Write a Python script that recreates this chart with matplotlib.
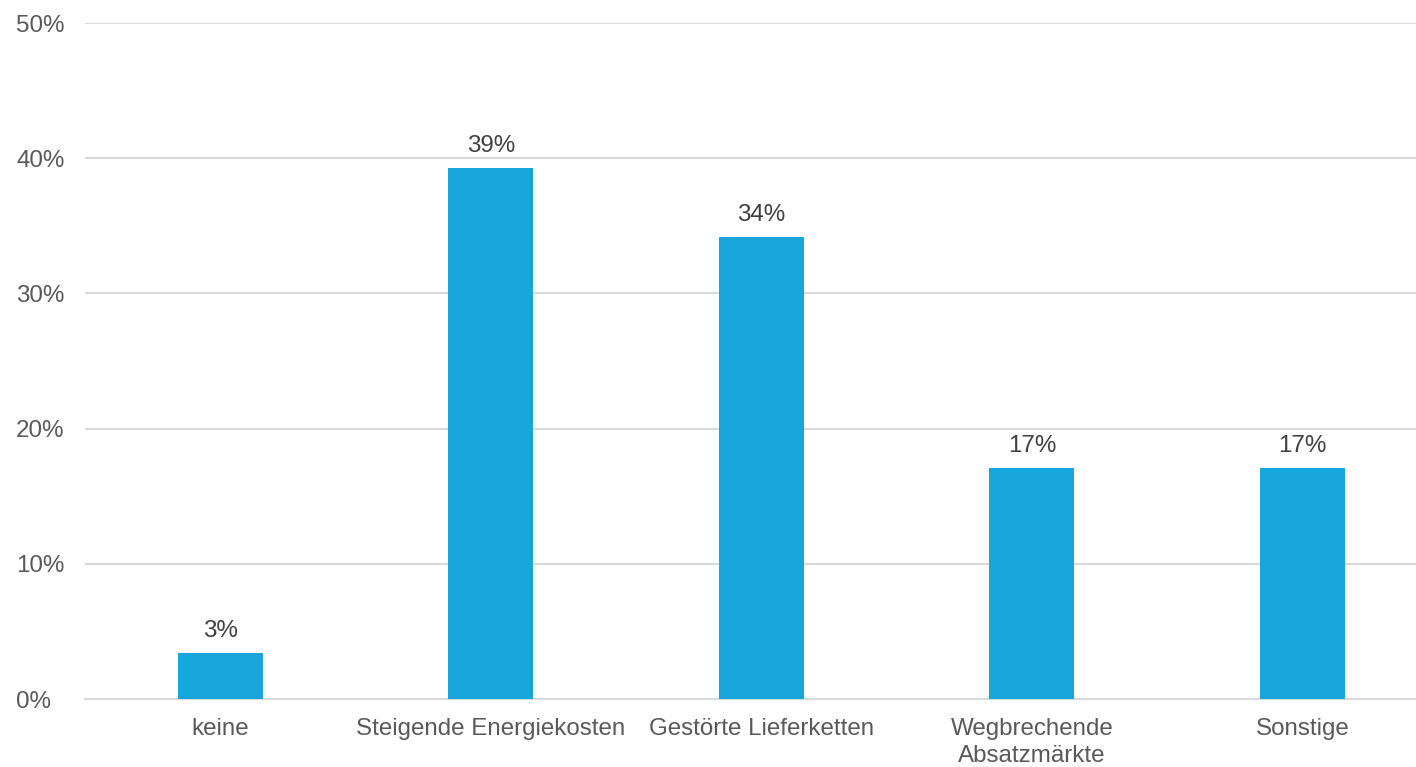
import matplotlib
matplotlib.use("Agg")
import matplotlib.pyplot as plt
from matplotlib.ticker import FuncFormatter

categories = ["keine", "Steigende Energiekosten", "Gestörte Lieferketten",
              "Wegbrechende\nAbsatzmärkte", "Sonstige"]
values = [3.4, 39.3, 34.2, 17.1, 17.1]
labels = ["3%", "39%", "34%", "17%", "17%"]
yticks = [0, 10, 20, 30, 40, 50]

plt.rcParams['font.family'] = ['Liberation Sans', 'DejaVu Sans']

W, H = 1416, 767
fig = plt.figure(figsize=(W / 100, H / 100), dpi=100)
ax = fig.add_axes([85 / W, (H - 699) / H, (1416 - 85) / W, (699 - 23) / H])

FS = 17.4
x = list(range(len(categories)))
bars = ax.bar(x, values, width=0.314, color="#17A6DC", zorder=3)
for xi, v, lab in zip(x, values, labels):
    ax.annotate(lab, (xi, v), xytext=(0, 8), textcoords="offset points",
                ha="center", va="bottom", fontsize=FS, color="#404040")

ax.set_xlim(-0.5, 4.42)
ax.set_ylim(0, 50)
ax.set_yticks(yticks)
ax.yaxis.set_major_formatter(FuncFormatter(lambda v, p: f"{v:.0f}%"))
ax.grid(axis="y", color="#D9D9D9", linewidth=1.5, zorder=0)
ax.set_xticks(x)
ax.set_xticklabels(categories, fontsize=FS, color="#595959", linespacing=1.25)
ax.tick_params(axis="y", labelsize=FS, labelcolor="#595959", length=0, pad=0)
ax.tick_params(axis="x", length=0, pad=14)
for s in ["top", "right", "left"]:
    ax.spines[s].set_visible(False)
ax.spines["bottom"].set_color("#D9D9D9")
ax.spines["bottom"].set_linewidth(1.5)
for lab in ax.get_yticklabels():
    lab.set_horizontalalignment("left")
    lab.set_x(-85 / (1416 - 85) + 16 / (1416 - 85))
    lab.set_transform(ax.get_yaxis_transform())

fig.savefig("out.png", dpi=100)
